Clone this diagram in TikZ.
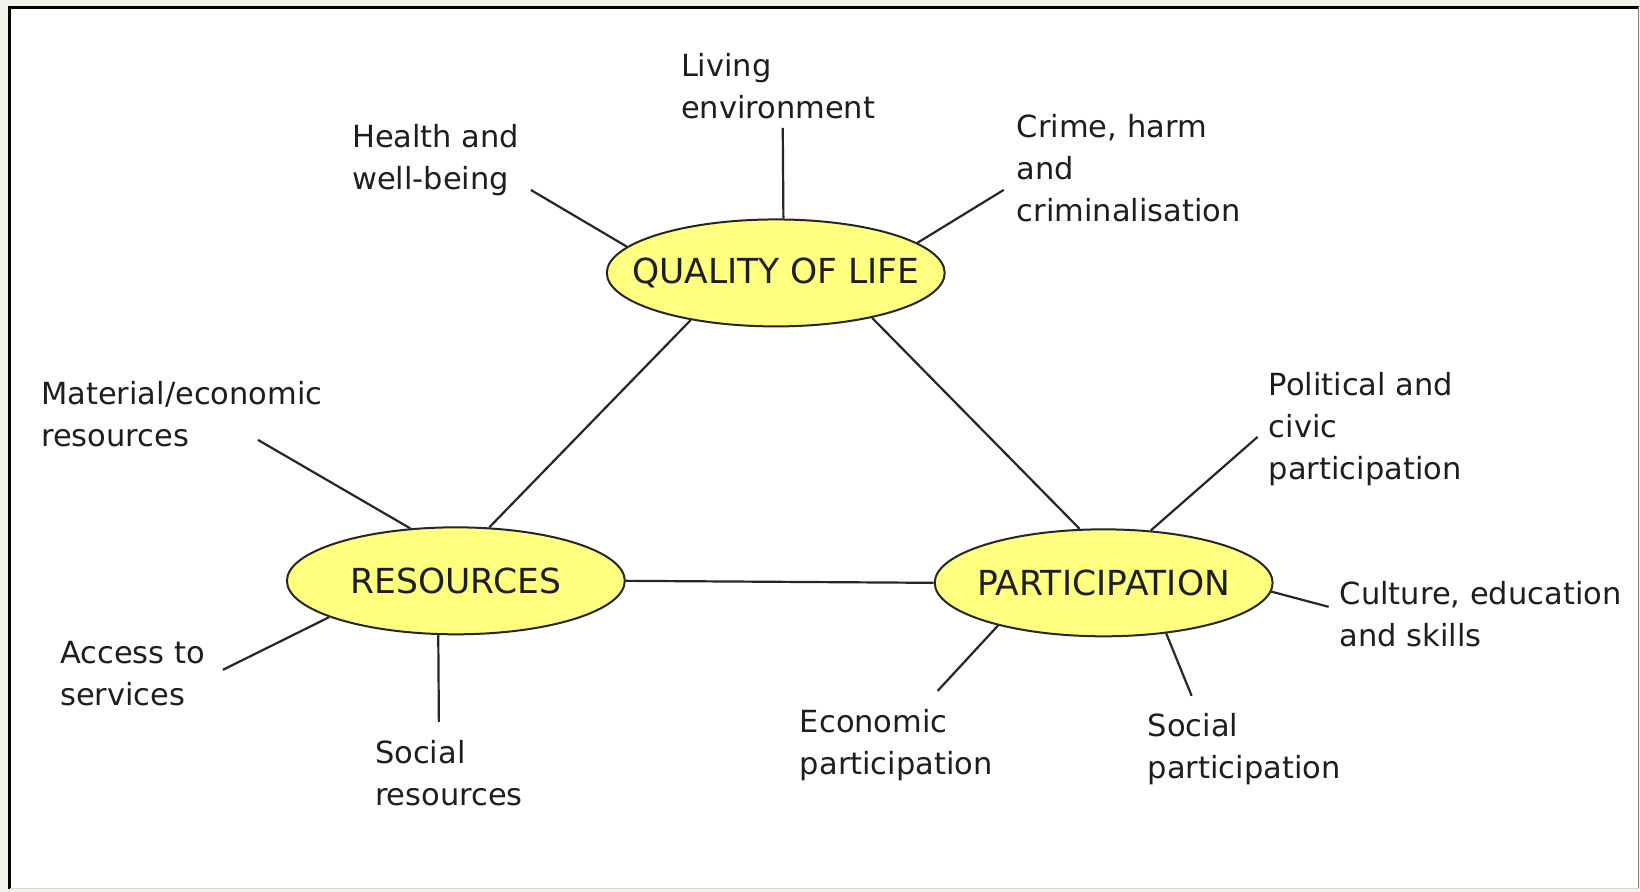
\documentclass[tikz,border=0pt]{standalone}
\usepackage{fontspec}
\setmainfont{DejaVu Sans}
\usetikzlibrary{shapes.geometric}
\definecolor{framebg}{RGB}{243,242,234}
\definecolor{ellfill}{RGB}{255,255,128}
\definecolor{txt}{RGB}{30,30,30}
\newcommand{\hubtext}[1]{\makebox[0pt][c]{#1}}
\begin{document}
\begin{tikzpicture}[x=1pt,y=-1pt,
  hub/.style={ellipse, draw=black!85, line width=2pt, fill=ellfill,
    minimum width=338pt, minimum height=107pt, inner sep=0pt,
    font=\fontsize{34.5}{40}\selectfont, text=txt},
  lbl/.style={anchor=north west, align=left, inner sep=0pt,
    font=\fontsize{30.5}{42}\selectfont, text=txt},
  link/.style={line width=2.2pt, draw=black!85}]
% frame
\fill[framebg] (0,0) rectangle (1640,892);
\fill[white] (10,7) rectangle (1639,889);
\draw[line width=3pt, black] (10,889) -- (10,7) -- (1639,7);
\draw[line width=1.5pt, gray] (1639,7) -- (1639,889);
\draw[line width=1pt, black!15] (10,888.5) -- (1639,888.5);
\useasboundingbox (0,0) rectangle (1640,892);
% hubs
\node[hub] (Q) at (776,273) {\hubtext{QUALITY OF LIFE}};
\node[hub] (R) at (456,581) {\hubtext{RESOURCES}};
\node[hub] (P) at (1104,583) {\hubtext{PARTICIPATION}};
% triangle
\draw[link] (Q.209) -- (R.58);
\draw[link] (Q.335) -- (P.114);
\draw[link] (R.east) -- (P.west);
% labels
\node[lbl] (tLiv) at (681,53) {Living\\environment};
\node[lbl] (tHea) at (352,124) {Health and\\well-being};
\node[lbl] (tCri) at (1017,114) {Crime, harm\\and\\criminalisation};
\node[lbl] (tMat) at (41,381) {Material/economic\\resources};
\node[lbl] (tAcc) at (60,641) {Access to\\services};
\node[lbl] (tSoR) at (375,740) {Social\\resources};
\node[lbl] (tPol) at (1269,372.5) {Political and\\civic\\participation};
\node[lbl] (tCul) at (1340,581) {Culture, education\\and skills};
\node[lbl] (tEco) at (800,709) {Economic\\participation};
\node[lbl] (tSoP) at (1148,713) {Social\\participation};
% spoke ends
\coordinate (cLiv) at (783,128);
\coordinate (cHea) at (531,190);
\coordinate (cCri) at (1004,190);
\coordinate (cMat) at (258,440);
\coordinate (cAcc) at (223,670);
\coordinate (cSoR) at (439,722);
\coordinate (cPol) at (1258,437);
\coordinate (cCul) at (1329,607);
\coordinate (cEco) at (938,691);
\coordinate (cSoP) at (1192,696);
% spokes
\draw[link] (Q.82) -- (cLiv);
\draw[link] (Q.170) -- (cHea);
\draw[link] (Q.12) -- (cCri);
\draw[link] (R.131) -- (cMat);
\draw[link] (R.196) -- (cAcc);
\draw[link] (R.252) -- (cSoR);
\draw[link] (P.48) -- (cPol);
\draw[link] (P.357) -- (cCul);
\draw[link] (P.202) -- (cEco);
\draw[link] (P.321) -- (cSoP);
\end{tikzpicture}
\end{document}
